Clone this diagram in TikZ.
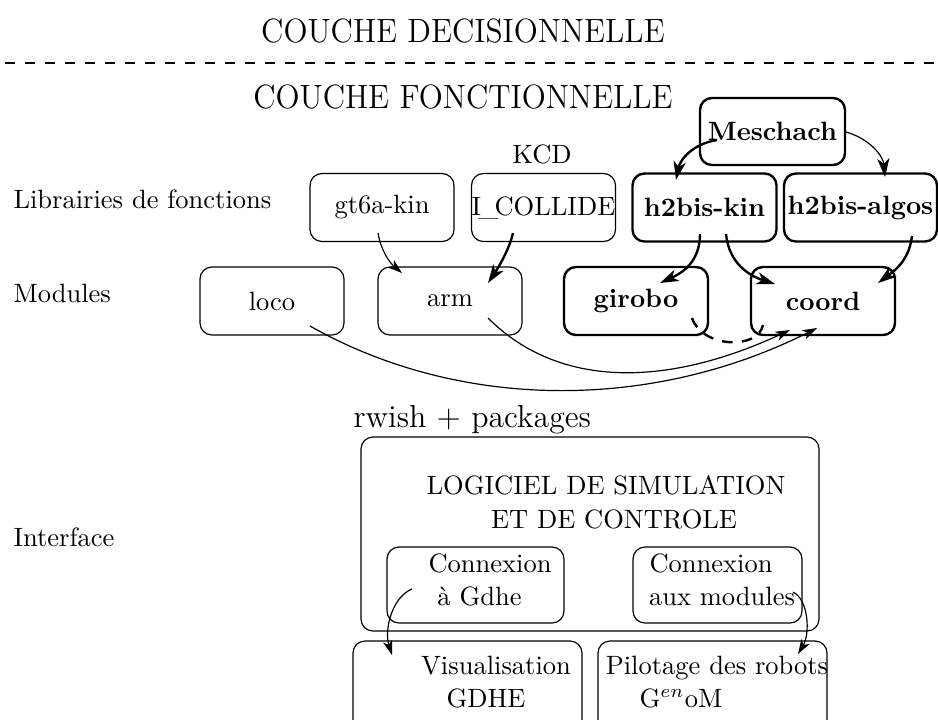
\documentclass[tikz,border=0pt]{standalone}
\usepackage{graphicx}
\usepackage{tikz}
\usetikzlibrary{arrows.meta,positioning,calc}
\newcommand{\pxlen}{0.01326cm}
\newcommand{\layername}[1]{\scalebox{0.937}[1]{#1}}
\tikzset{
  modbox/.style={
    draw,rounded corners=4.5pt,line width=0.45pt,inner sep=0pt,
    minimum width=144*\pxlen,minimum height=68*\pxlen,font=\fontsize{10}{12}\selectfont
  },
  keybox/.style={modbox,line width=0.9pt,font=\fontsize{10}{12}\selectfont\bfseries},
  txt/.style={inner sep=0pt,anchor=base,font=\fontsize{10}{12}\selectfont},
  rowlabel/.style={txt,anchor=base west},
  bigtxt/.style={txt,font=\fontsize{12.7}{15}\selectfont},
  thinarrow/.style={-{Stealth[length=5.5pt,width=3.6pt,inset=1.5pt]},line width=0.45pt},
  thickarrow/.style={-{Stealth[length=7pt,width=4.6pt,inset=2pt]},line width=0.9pt},
  linkdash/.style={line width=0.9pt,dash pattern=on 4pt off 3.5pt},
  layerline/.style={line width=0.6pt,dash pattern=on 3.77pt off 3.77pt}
}

\begin{document}
\begin{tikzpicture}[x=\pxlen,y=-\pxlen]
  \useasboundingbox (0,0) rectangle (938,719);
  \clip (0,0) rectangle (938,719);

  % couches
  \node[bigtxt] (dec) at (463,42) {\layername{COUCHE DECISIONNELLE}};
  \coordinate (sepa) at (5,63);
  \coordinate (sepb) at (935,63);
  \draw[layerline] (sepa) -- (sepb);
  \node[bigtxt] (fonc) at (463,108) {\layername{COUCHE FONCTIONNELLE}};

  % lignes
  \node[rowlabel] (lib) at (13,208) {Librairies de fonctions};
  \node[rowlabel] (mod) at (13,302) {Modules};
  \node[rowlabel] (itf) at (13,546) {Interface};

  % librairies
  \node[keybox,minimum width=145*\pxlen,minimum height=67*\pxlen] (mes) at (772.5,131.5) {Meschach};
  \node[modbox] (gt6a) at (382,207.5) {gt6a-kin};
  \node[modbox] (icol) at (543.5,207.5) {I\kern-1pt\_\kern-1.5pt COLLIDE};
  \node[txt] (kcd) at (542,163) {KCD};
  \node[keybox] (h2kin) at (704.5,207.5) {h2bis-kin};
  \node[keybox,minimum width=153*\pxlen] (h2alg) at (860.5,207.5) {h2bis-algos};

  % modules
  \node[modbox] (loco) at (272,301) {loco};
  \node[modbox] (arm) at (450,301) {arm};
  \node[keybox] (girobo) at (636,301) {girobo};
  \node[keybox] (coord) at (823,301) {coord};

  \draw[thickarrow] ([shift={(-55.5,8.5)}]mes.center) .. controls +(-25,4) and +(4,-20) .. ([shift={(-28.5,-27.5)}]h2kin.center);
  \draw[thinarrow,-{Stealth[length=7pt,width=4.6pt,inset=2pt]}] ([shift={(73.5,0.5)}]mes.center) .. controls +(22,6) and +(-2,-22) .. ([shift={(24.5,-30.5)}]h2alg.center);
  \draw[thinarrow] ([shift={(-4,25.5)}]gt6a.center) .. controls +(3,18) and +(-12,-10) .. ([shift={(-48,-28)}]arm.center);
  \draw[thickarrow] ([shift={(-30.5,25.5)}]icol.center) .. controls +(-4,18) and +(8,-12) .. ([shift={(38,-18)}]arm.center);
  \draw[thickarrow] ([shift={(-4.5,26.5)}]h2kin.center) .. controls +(0,28) and +(22,-10) .. ([shift={(24,-18)}]girobo.center);
  \draw[thickarrow] ([shift={(21.5,26.5)}]h2kin.center) .. controls +(3,30) and +(-25,-8) .. ([shift={(-48,-17)}]coord.center);
  \draw[thickarrow] ([shift={(51.5,28.5)}]h2alg.center) .. controls +(-3,25) and +(16,-12) .. ([shift={(55,-18)}]coord.center);
  \draw[linkdash] ([shift={(56,17)}]girobo.center) .. controls +(10,30) and +(-5,25) .. ([shift={(-60,24)}]coord.center);
  \draw[thinarrow] ([shift={(38,25)}]loco.center) .. controls +(150,85) and +(-165,83) .. ([shift={(-6,27)}]coord.center);
  \draw[thinarrow] ([shift={(38,17)}]arm.center) .. controls +(70,70) and +(-125,58) .. ([shift={(-33,29)}]coord.center);

  % interface
  \node[txt,font=\fontsize{12}{14}\selectfont,anchor=base west] (rwish) at (353,427) {rwish + packages};
  \node[modbox,minimum width=458*\pxlen,minimum height=194*\pxlen] (sim) at (590,534) {};
  \node[txt] (simt1) at (606,494) {LOGICIEL DE SIMULATION};
  \node[txt] (simt2) at (614,528) {ET DE CONTROLE};
  \node[modbox,minimum width=177*\pxlen,minimum height=76*\pxlen] (cxg) at (475.5,585) {};
  \node[txt] (cxg1) at (490,572) {Connexion};
  \node[txt] (cxg2) at (479.5,605) {à Gdhe};
  \node[modbox,minimum width=169*\pxlen,minimum height=76*\pxlen] (cxm) at (717.5,585) {};
  \node[txt] (cxm1) at (711,572) {Connexion};
  \node[txt] (cxm2) at (722,605) {aux modules};
  \node[modbox,minimum width=229*\pxlen,minimum height=98*\pxlen] (vis) at (467.5,690) {};
  \node[txt] (vis1) at (496,674) {Visualisation};
  \node[txt] (vis2) at (486,707) {GDHE};
  \node[modbox,minimum width=229*\pxlen,minimum height=98*\pxlen] (pil) at (712.5,690) {};
  \node[txt] (pil1) at (717,674) {Pilotage des robots};
  \node[txt] (pil2) at (681,707) {G$^{en}$oM};

  \draw[thinarrow] ([shift={(-63.5,4)}]cxg.center) .. controls +(-20,8) and +(-8,-25) .. ([shift={(-75.5,-35)}]vis.center);
  \draw[thinarrow] ([shift={(75.5,7)}]cxm.center) .. controls +(16,8) and +(12,-20) .. ([shift={(85.5,-36)}]pil.center);
\end{tikzpicture}
\end{document}
